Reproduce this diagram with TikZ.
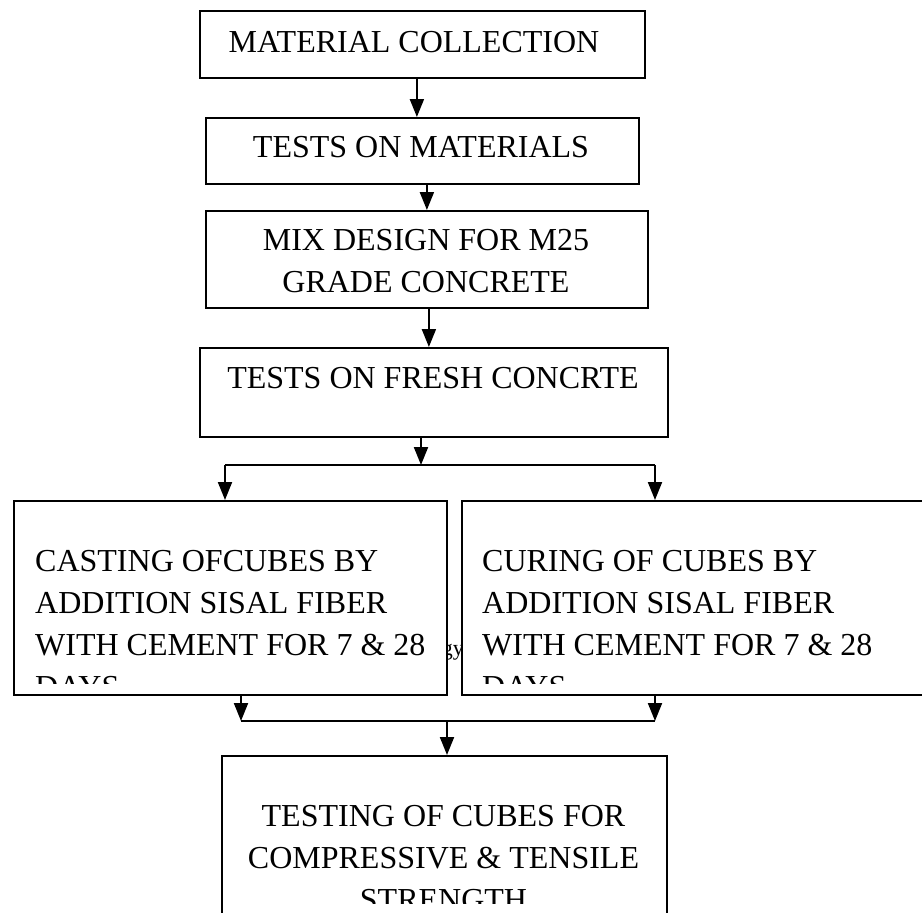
\documentclass[tikz,border=0pt]{standalone}
\usepackage{fontspec}
\setmainfont{Liberation Serif}
\usetikzlibrary{arrows.meta}

\begin{document}
\begin{tikzpicture}[x=1pt,y=-1pt,
  box/.style={draw,fill=white,line width=1.8pt,inner sep=0pt,anchor=north west},
  txt/.style={inner sep=0pt,font=\fontsize{32}{41.7}\selectfont},
  arr/.style={line width=2pt,-{Triangle[width=14pt,length=18pt]}},
  link/.style={line width=2pt}]
  \clip (0,0) rectangle (922,913);
  % bit of text left behind the two middle boxes
  \node[inner sep=0pt,anchor=base east,font=\fontsize{22}{26}\selectfont] (frag) at (464,655) {gy};
  % boxes
  \node[box,minimum width=445,minimum height=67] (mat) at (199,10) {};
  \node[box,minimum width=433,minimum height=66] (tstm) at (205,117) {};
  \node[box,minimum width=442,minimum height=97] (mix) at (205,210) {};
  \node[box,minimum width=468,minimum height=89] (fresh) at (199,347) {};
  \node[box,minimum width=433,minimum height=194] (cast) at (13,500) {};
  \node[box,minimum width=480,minimum height=194] (cure) at (461,500) {};
  \node[box,minimum width=445,minimum height=180] (test) at (221,755) {};
  % texts (base = last line)
  \node[txt,anchor=base] (matt) at (414,52) {MATERIAL COLLECTION};
  \node[txt,anchor=base] (tstmt) at (421,157) {TESTS ON MATERIALS};
  \node[txt,anchor=base,align=center] (mixt) at (426,292) {MIX DESIGN FOR M25\\GRADE CONCRETE};
  \node[txt,anchor=base] (fresht) at (433,388) {TESTS ON FRESH CONCRTE};
  \begin{scope}
    \clip (cast.north west) rectangle ([yshift=12]cast.south east);
    \node[txt,anchor=base west,align=left] (castt) at (35,697)
      {CASTING OFCUBES BY\\ADDITION SISAL FIBER\\WITH CEMENT FOR 7 \& 28\\DAYS};
  \end{scope}
  \begin{scope}
    \clip (cure.north west) rectangle ([yshift=12]cure.south east);
    \node[txt,anchor=base west,align=left] (curet) at (482,697)
      {CURING OF CUBES BY\\ADDITION SISAL FIBER\\WITH CEMENT FOR 7 \& 28\\DAYS};
  \end{scope}
  \begin{scope}
    \clip (test.north west) rectangle (666,903);
    \node[txt,anchor=base,align=center] (testt) at (443.5,910)
      {TESTING OF CUBES FOR\\COMPRESSIVE \& TENSILE\\STRENGTH};
  \end{scope}
  % arrows
  \draw[arr] ([xshift=-5.5]mat.south) -- ([xshift=-5.5]mat.south |- tstm.north);
  \draw[arr] ([xshift=4.5]tstm.south) -- ([xshift=4.5]tstm.south |- mix.north);
  \draw[arr] ([xshift=2]mix.south) -- ([xshift=2]mix.south |- fresh.north);
  \coordinate (split) at (421,465);
  \coordinate (sl) at (225,465);
  \coordinate (sr) at (655,465);
  \draw[arr] (fresh.south -| split) -- (split);
  \draw[link] (sl) -- (sr);
  \draw[arr] (sl) -- (sl |- cast.north);
  \draw[arr] (sr) -- (sr |- cure.north);
  \coordinate (ml) at (241,721);
  \coordinate (mr) at (655,721);
  \coordinate (join) at (447,721);
  \draw[arr] (cast.south -| ml) -- (ml);
  \draw[arr] (cure.south -| mr) -- (mr);
  \draw[link] (ml) -- (mr);
  \draw[arr] (join) -- (join |- test.north);
\end{tikzpicture}
\end{document}
